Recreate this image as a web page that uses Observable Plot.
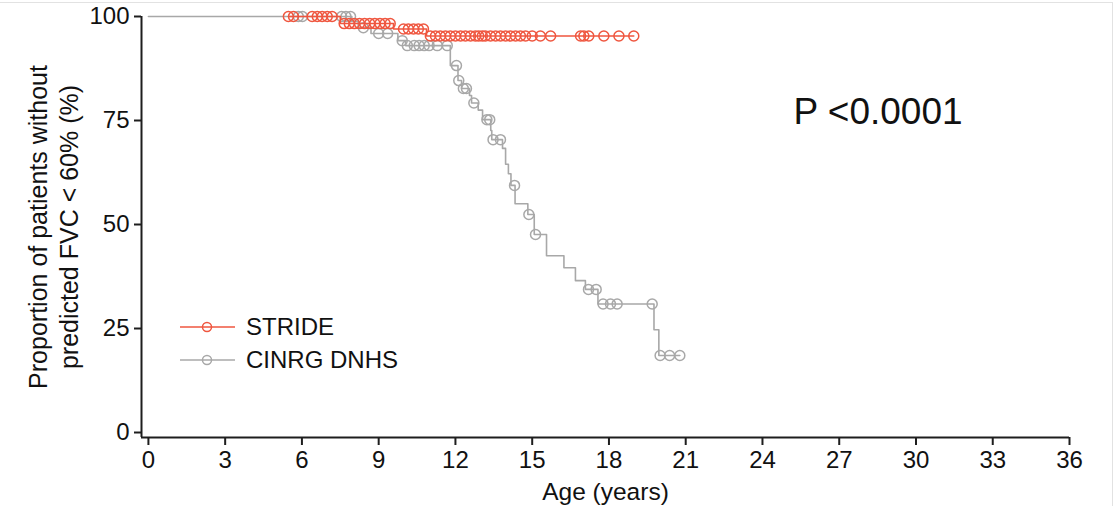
<!DOCTYPE html>
<html><head><meta charset="utf-8">
<script src="https://cdn.jsdelivr.net/npm/d3@7"></script>
<script src="https://cdn.jsdelivr.net/npm/@observablehq/plot@0.6"></script>
<style>
body{margin:0;background:#fff;}
#wrap{position:relative;width:1117px;height:506px;font-family:"Liberation Sans",Arial,sans-serif;overflow:hidden;}
#edge{position:absolute;left:-2px;top:2px;width:1114px;height:520px;border-top:1px solid #e2e2e2;border-right:1px solid #e2e2e2;pointer-events:none;}
.leg{position:absolute;left:178px;display:flex;align-items:center;font-size:24px;color:#111;}
.leg svg{margin-right:10px;}
</style></head><body><div id="wrap"></div>
<script>
const seriesNames = ["STRIDE", "CINRG DNHS"];
const seriesColors = ["#ef563f", "#a8a8a8"];

// STRIDE: step changes (age in years, % without FVC<60%) and censored ages
const strideStepAge  = [5.47, 7.5, 9.58, 10.87];
const strideStepSurv = [100, 98.3, 97.0, 95.3];
const strideCensorAge = [5.47, 5.67, 6.40, 6.60, 6.79, 6.99, 7.18,
  7.65, 7.85, 8.05, 8.25, 8.45, 8.65, 8.85, 9.05, 9.25, 9.45,
  9.97, 10.16, 10.36, 10.55, 10.75,
  11.02, 11.22, 11.41, 11.61, 11.8, 12.0, 12.2, 12.39, 12.59, 12.78, 12.91,
  13.05, 13.17, 13.37, 13.57, 13.76, 13.96, 14.15, 14.35, 14.54, 14.74,
  15.0, 15.32, 15.72, 16.89, 17.02, 17.21, 17.8, 18.39, 18.97];

// CINRG DNHS
const cinrgStepAge  = [0, 7.95, 8.2, 8.7, 9.75, 10.05, 11.8, 12.1, 12.24, 12.55, 12.63,
  12.89, 13.06, 13.38, 13.42, 13.84, 13.96, 14.07, 14.17, 14.33, 14.83, 15.08,
  15.56, 16.24, 16.69, 17.08, 17.57, 19.76, 19.95];
const cinrgStepSurv = [100, 98.8, 97.3, 95.9, 94.2, 93.0, 88.2, 84.6, 82.7, 81.0, 79.2,
  77.5, 75.2, 72.6, 70.4, 68.3, 64.5, 62.2, 59.4, 55.0, 52.4, 47.6,
  42.5, 39.6, 36.5, 34.4, 30.9, 24.7, 18.5];
const cinrgCensorAge = [5.86, 6.02, 7.55, 7.72, 7.9, 8.4, 9.0, 9.35, 9.92,
  10.12, 10.39, 10.58, 10.78, 10.97, 11.29, 11.68, 12.04, 12.13, 12.31, 12.43,
  12.72, 13.23, 13.34, 13.47, 13.76, 14.31, 14.87, 15.13, 17.2, 17.5, 17.77,
  18.06, 18.32, 19.69, 20.0, 20.37, 20.77];

const xTicks = [0, 3, 6, 9, 12, 15, 18, 21, 24, 27, 30, 33, 36];
const yTicks = [0, 25, 50, 75, 100];
const xDomain = [-0.27, 36];
const yDomain = [-1.2, 100];
const xLabel = "Age (years)";
const yLabel = "Proportion of patients without\npredicted FVC < 60% (%)";
const pText = "P <0.0001";

function levelAt(stepAge, stepSurv, t) {
  let s = stepSurv[0];
  for (let i = 0; i < stepAge.length; i++) if (stepAge[i] <= t) s = stepSurv[i];
  return s;
}
function build(name, stepAge, stepSurv, censorAge) {
  const steps = stepAge.map((a, i) => ({series: name, age: a, surv: stepSurv[i]}));
  const cens = censorAge.map(a => ({series: name, age: a, surv: levelAt(stepAge, stepSurv, a)}));
  const line = [...steps, ...cens].sort((p, q) => p.age - q.age);
  return {line, cens};
}
const stride = build(seriesNames[0], strideStepAge, strideStepSurv, strideCensorAge);
const cinrg = build(seriesNames[1], cinrgStepAge, cinrgStepSurv, cinrgCensorAge);

const axisColor = "#1e1e1e";
const chart = Plot.plot({
  width: 1117, height: 506,
  marginLeft: 141, marginRight: 48, marginTop: 16, marginBottom: 69,
  style: {fontFamily: "'Liberation Sans', Arial, sans-serif", fontSize: "24px", color: "#111", background: "#fff"},
  x: {domain: xDomain},
  y: {domain: yDomain},
  marks: [
    Plot.ruleX([xDomain[0]], {y1: yDomain[0], y2: yDomain[1], stroke: axisColor, strokeWidth: 2}),
    Plot.ruleY([yDomain[0]], {x1: xDomain[0], x2: xDomain[1], stroke: axisColor, strokeWidth: 2}),
    Plot.axisX(xTicks, {tickSize: 8, tickPadding: 5, fontSize: 24, stroke: axisColor, strokeWidth: 2, label: null}),
    Plot.axisY(yTicks, {tickSize: 7, tickPadding: 5, fontSize: 24, stroke: axisColor, strokeWidth: 2, label: null}),
    Plot.line(cinrg.line, {x: "age", y: "surv", curve: "step-after", stroke: seriesColors[1], strokeWidth: 1.6}),
    Plot.dot(cinrg.cens, {x: "age", y: "surv", r: 5, stroke: seriesColors[1], fill: "none", strokeWidth: 1.5}),
    Plot.line(stride.line, {x: "age", y: "surv", curve: "step-after", stroke: seriesColors[0], strokeWidth: 1.6}),
    Plot.dot(stride.cens, {x: "age", y: "surv", r: 5, stroke: seriesColors[0], fill: "none", strokeWidth: 1.5}),
    Plot.text([xLabel], {frameAnchor: "bottom", lineAnchor: "middle", textAnchor: "middle", dy: 55, fontSize: 24.5, fill: "#111"}),
    Plot.text([yLabel], {frameAnchor: "left", textAnchor: "middle", lineAnchor: "middle", rotate: -90, dx: -89, lineHeight: 1.25, fontSize: 25, fill: "#111"}),
    Plot.text([pText], {frameAnchor: "top-left", textAnchor: "start", lineAnchor: "middle", dx: 652, dy: 96, fontSize: 37, fill: "#111"})
  ]
});
const wrap = document.getElementById("wrap");
wrap.appendChild(chart);
const edge = document.createElement("div");
edge.id = "edge";
wrap.appendChild(edge);

seriesNames.forEach((name, i) => {
  const d = document.createElement("div");
  d.className = "leg";
  d.style.top = (312 + i * 33) + "px";
  d.innerHTML = `<svg width="58" height="30"><line x1="2" x2="57" y1="15" y2="15" stroke="${seriesColors[i]}" stroke-width="1.6"/><circle cx="29" cy="15" r="4.5" fill="none" stroke="${seriesColors[i]}" stroke-width="1.5"/></svg><span>${name}</span>`;
  wrap.appendChild(d);
});
</script>
</body></html>
